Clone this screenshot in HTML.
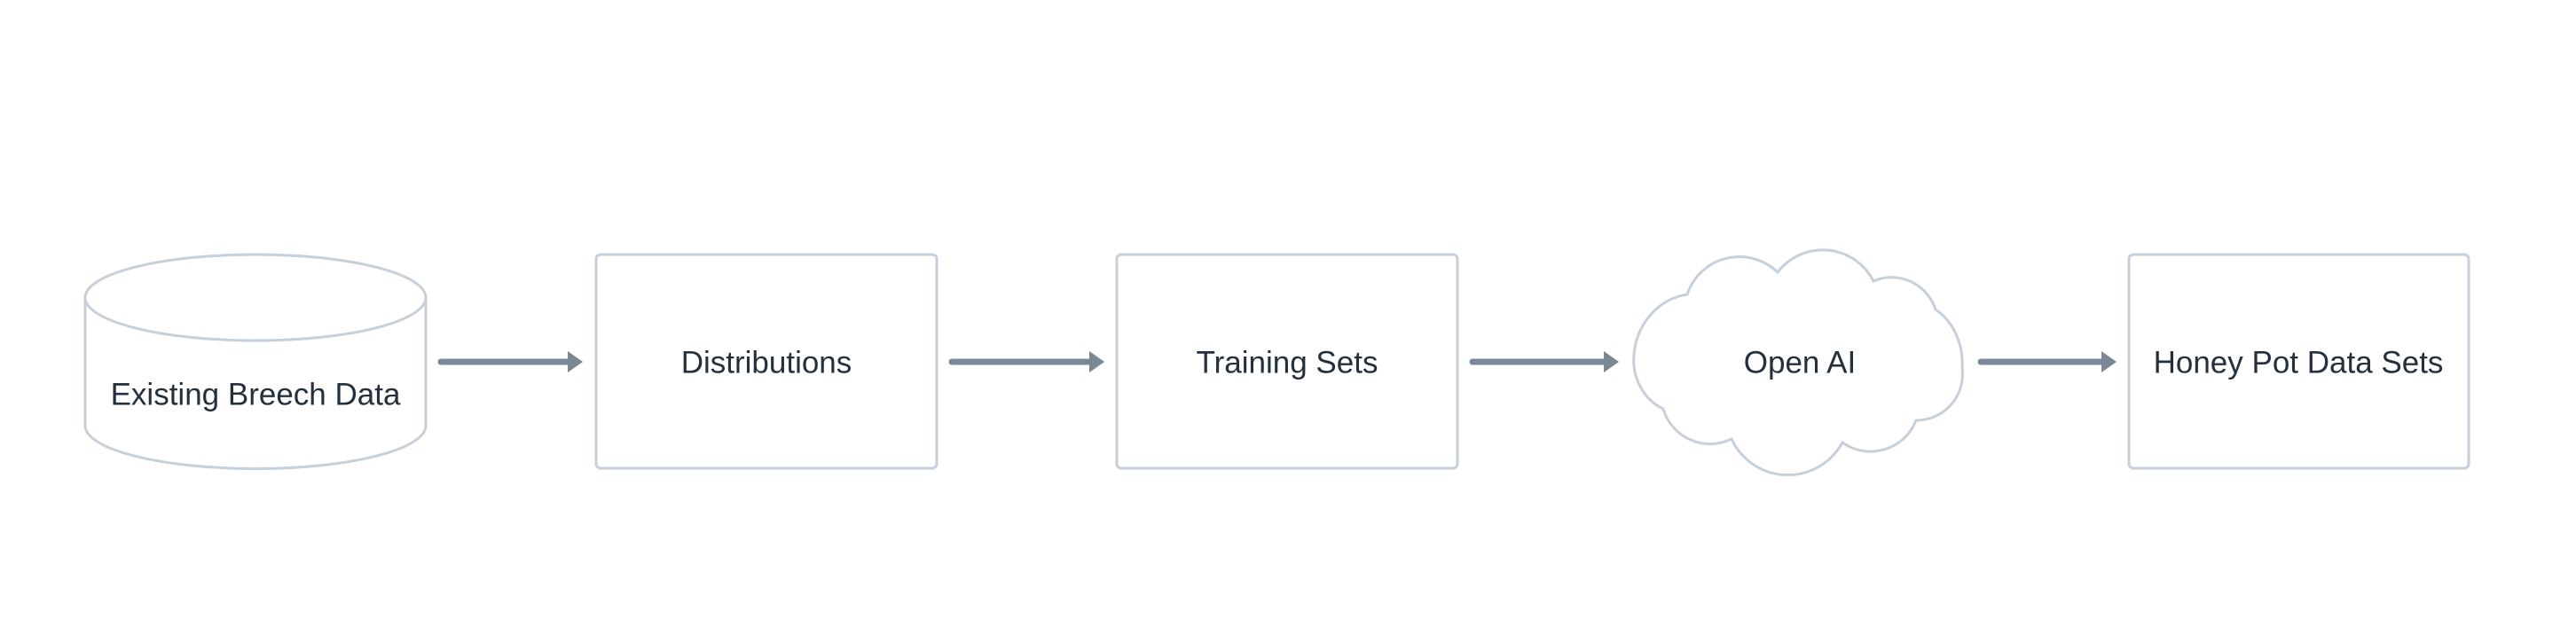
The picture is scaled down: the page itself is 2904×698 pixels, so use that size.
<!DOCTYPE html>
<html><head><meta charset="utf-8"><style>
html,body{margin:0;padding:0;background:#fff;}
svg{display:block}
text{font-family:"Liberation Sans",sans-serif;font-size:35px;fill:#25303d;text-anchor:middle;dominant-baseline:central}
</style></head><body>
<svg width="2904" height="698" viewBox="0 0 2904 698" xmlns="http://www.w3.org/2000/svg">
<g fill="none" stroke="#c5d0da" stroke-width="3">
<path d="M96,335.5 L96,480 A192,48.5 0 0 0 480,480 L480,335.5"/>
<ellipse cx="288" cy="335.5" rx="192" ry="48.5"/>
<rect x="672" y="287" width="384" height="241" rx="5"/>
<rect x="1259" y="287" width="384" height="241" rx="5"/>
<rect x="2400" y="287" width="383" height="241" rx="5"/>
<path d="M1842,400 A70 75 0 0 1 1902,332 A62 62 0 0 1 2004,307 A64 64 0 0 1 2112,317 A52 52 0 0 1 2182,349 A60 70 0 0 1 2212,415 A52 52 0 0 1 2160,474 A55 55 0 0 1 2077,499 A70 70 0 0 1 1952,495 A55 55 0 0 1 1875,461 A55 60 0 0 1 1842,400 Z"/>
</g>
<g stroke="#7a8794" stroke-width="7" stroke-linecap="round">
<line x1="497" y1="408" x2="642" y2="408"/>
<line x1="1073" y1="408" x2="1230" y2="408"/>
<line x1="1660" y1="408" x2="1809" y2="408"/>
<line x1="2233" y1="408" x2="2370" y2="408"/>
</g>
<g fill="#7a8794">
<path d="M640,396 L657,408 L640,420 Z"/>
<path d="M1228,396 L1245,408 L1228,420 Z"/>
<path d="M1808,396 L1825,408 L1808,420 Z"/>
<path d="M2369,396 L2386,408 L2369,420 Z"/>
</g>
<text x="288" y="445">Existing Breech Data</text>
<text x="864" y="409">Distributions</text>
<text x="1451" y="409">Training Sets</text>
<text x="2029" y="409">Open AI</text>
<text x="2591" y="409">Honey Pot Data Sets</text>
</svg>
</body></html>
